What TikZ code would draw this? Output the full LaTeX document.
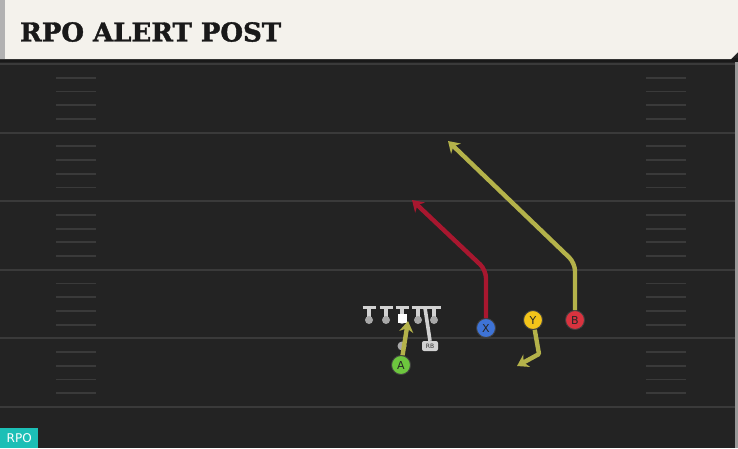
\documentclass[tikz,border=0pt]{standalone}
\usepackage{fontspec}
\usetikzlibrary{arrows.meta,positioning}
\newfontfamily\titrefont{DejaVu Serif}[BoldFeatures={FakeBold=1.5}]
\newfontfamily\lettrefont{DejaVu Sans}
\definecolor{terrain}{HTML}{232323}
\definecolor{ligneyard}{HTML}{3A3A3A}
\definecolor{entete}{HTML}{F4F2EC}
\definecolor{joueurgris}{HTML}{D2D2D2}
\definecolor{pointgris}{HTML}{A8A8A8}
\definecolor{olive}{HTML}{B4B24A}
\definecolor{rougeroute}{HTML}{A8172F}
\definecolor{vertA}{HTML}{6DC63E}
\definecolor{bleuX}{HTML}{3E73D6}
\definecolor{jauneY}{HTML}{F3C41A}
\definecolor{rougeB}{HTML}{D9333F}
\definecolor{turquoise}{HTML}{1CBFB6}
\newcommand{\Tiret}[2]{\draw[ligneyard,line width=1.8pt] (#1,#2) -- (#1+40,#2)}

\begin{document}
\begin{tikzpicture}[x=1pt,y=-1pt,
	joueur/.style={circle,draw=black!75,line width=0.9pt,fill=#1,minimum size=19pt,inner sep=0pt,font=\lettrefont\fontsize{11}{11}\selectfont,text=black!85},
	route/.style={line width=4.4pt,draw=#1,-{Stealth[length=11pt,width=14pt,inset=3.5pt]}},
	bloc/.style={joueurgris,line width=3.6pt}]
	\def\ecart{68.6}
	\def\yzero{64}
	\useasboundingbox (0,0) rectangle (738,448);
	
	%Terrain
	\fill[terrain] (0,0) rectangle (738,448);
	\fill[black!40] (735,60) rectangle (738,448);
	\foreach \j in {0,...,5}{
		\draw[ligneyard,line width=2pt] (0,\yzero+\j*\ecart) -- (735,\yzero+\j*\ecart);
	}
	\foreach \j in {0,...,4}{
		\foreach \k in {1,...,4}{
			\Tiret{56}{\yzero+\j*\ecart+\k*\ecart/5};
			\Tiret{646}{\yzero+\j*\ecart+\k*\ecart/5};
		}
	}
	
	%Titre
	\fill[black!90] (0,58) rectangle (738,62);
	\fill[entete] (0,0) -- (738,0) -- (738,52) -- (731,59) -- (0,59) -- cycle;
	\fill[black!30] (0,0) rectangle (5,59);
	\node[anchor=west,font=\titrefont\bfseries\fontsize{26}{30}\selectfont,text=black!90,inner sep=0pt] (titre) at (20,32) {RPO ALERT POST};
	
	%Badge
	\node[anchor=south west,fill=turquoise,text=white,font=\lettrefont\fontsize{12}{14}\selectfont,minimum width=38pt,minimum height=20pt,inner sep=0pt] (rpo) at (0,448) {RPO};
	
	%Ligne offensive
	\foreach \x [count=\i] in {369,386,402,418,434}{
		\draw[bloc] (\x,308) -- (\x,318);
		\draw[bloc] (\x-6.5,307.5) -- (\x+6.5,307.5);
		\node[circle,fill=pointgris,minimum size=8pt,inner sep=0pt] (ol\i) at (\x,320) {};
	}
	\node[fill=white,minimum size=9pt,inner sep=0pt] (centre) at (402,318) {};
	\node[circle,fill=pointgris,minimum size=9pt,inner sep=0pt] (qb) at (402,346) {};
	
	%RB
	\node[fill=joueurgris,rounded corners=2pt,minimum width=16pt,minimum height=10pt,inner sep=0pt,font=\lettrefont\fontsize{6}{6}\selectfont,text=black!80] (rb) at (430,346) {RB};
	\coordinate (rbfin) at (425,308);
	\draw[bloc] (rb.north) -- (rbfin);
	\draw[bloc] (418.5,307.5) -- (441,307.5);
	
	%Joueurs
	\node[joueur=vertA] (A) at (401,365) {A};
	\node[joueur=bleuX] (X) at (486,328) {X};
	\node[joueur=jauneY] (Y) at (533,320) {Y};
	\node[joueur=rougeB] (B) at (575,320) {B};
	
	%Routes
	\coordinate (finA) at (408,321);
	\coordinate (coinX) at (486,270);
	\coordinate (finX) at (412,200);
	\coordinate (coinY) at (539,354);
	\coordinate (finY) at (517,366);
	\coordinate (coinB) at (575,263);
	\coordinate (finB) at (448,141);
	\draw[route=olive] (A) -- (finA);
	\draw[route=rougeroute,rounded corners=8pt] (X) -- (coinX) -- (finX);
	\draw[route=olive,rounded corners=1pt] (Y) -- (coinY) -- (finY);
	\draw[route=olive,rounded corners=8pt] (B) -- (coinB) -- (finB);
	
\end{tikzpicture}
\end{document}
